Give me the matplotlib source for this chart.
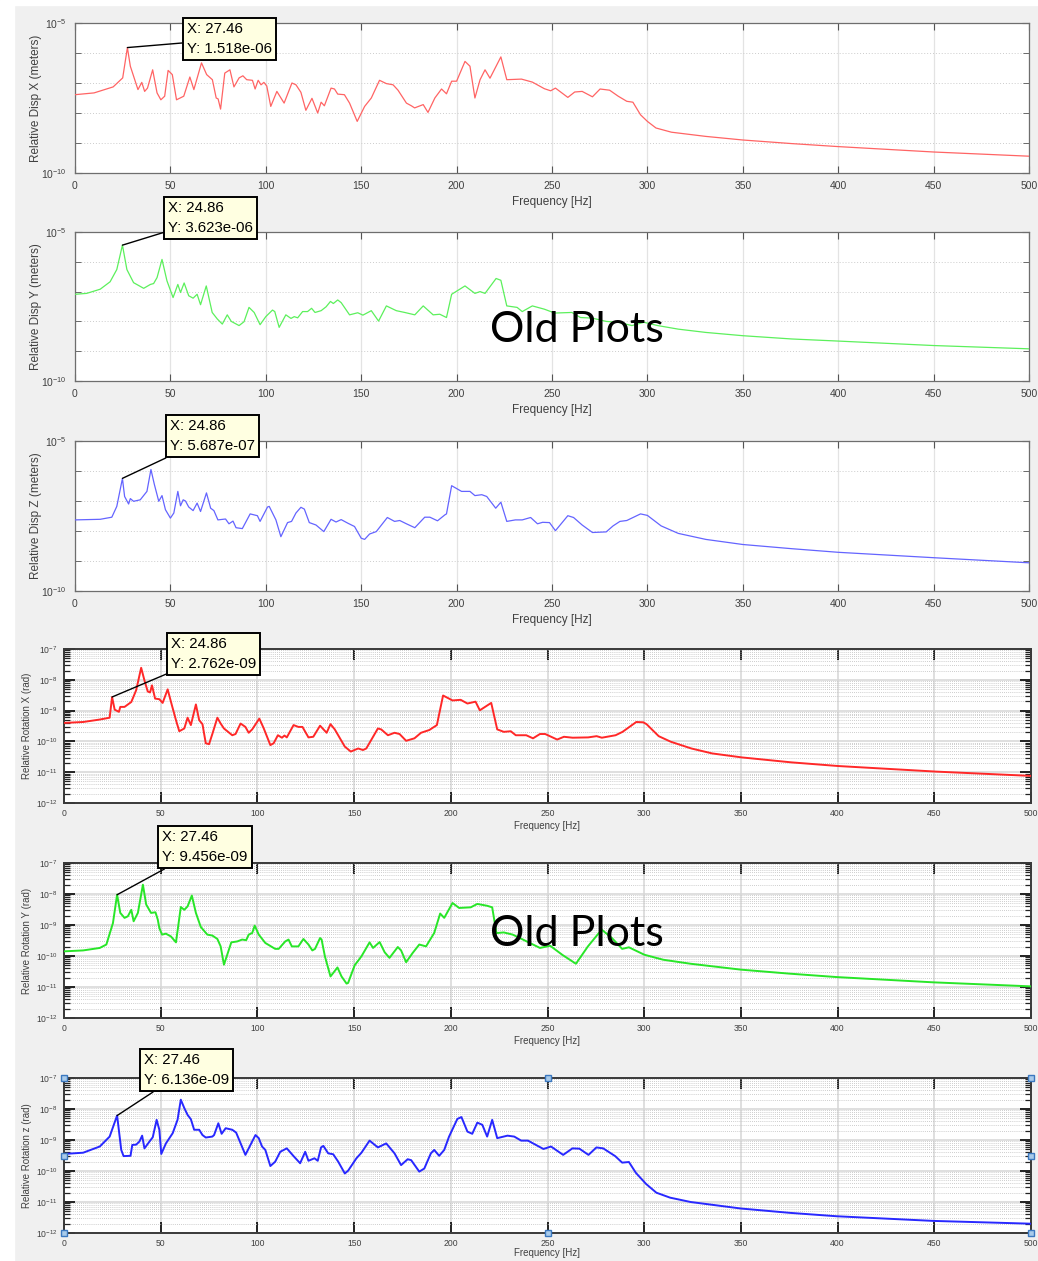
import numpy as np
import matplotlib
matplotlib.use("Agg")
import matplotlib.pyplot as plt
from matplotlib.ticker import FixedLocator, NullFormatter, LogLocator, MultipleLocator
from matplotlib.patches import Rectangle

plt.rcParams['font.family'] = ['Liberation Sans', 'DejaVu Sans']
plt.rcParams['mathtext.default'] = 'regular'

W, H = 1038, 1261

# frequency [Hz] and log10 of the response
freq_dx = [0, 10, 20, 25, 27.46, 29, 33, 35, 36.5, 38,
           40.7, 43, 45, 47, 48.8, 51, 53.2, 57, 60.2, 62.3,
           66.3, 69, 72, 74, 75, 76.3, 78.5, 81.2, 83.3, 86,
           88, 90, 93, 94.4, 96, 97.5, 99, 100.5, 102.6, 105.8,
           109.6, 113.7, 115.8, 118.4, 121, 124.2, 127.2, 129, 130.7, 134.2,
           136, 137.7, 141.2, 143.9, 147.9, 151.8, 155.3, 159.6, 163.2, 166.7,
           169.3, 173.7, 176.3, 178, 182.5, 185, 188.6, 192.1, 194.7, 197.4,
           200, 204.4, 207, 209.6, 212.3, 214.9, 217.5, 223.2, 226.3, 234,
           239.7, 246, 249.3, 251.8, 258.3, 261.9, 265.8, 271.2, 275.2, 280.2,
           284.7, 289.2, 292.4, 296.4, 300, 304.5, 312.6, 330.6, 350, 375.7,
           400, 450, 500]
lg_dx = [-7.39, -7.33, -7.13, -6.83, -5.82, -6.44, -7.22, -6.98, -7.28, -7.17,
         -6.56, -7.33, -7.56, -7.44, -6.58, -6.72, -7.56, -7.44, -6.80, -7.22,
         -6.33, -6.72, -6.89, -7.50, -7.53, -7.87, -6.67, -6.56, -7.13, -6.83,
         -6.76, -6.89, -6.91, -7.20, -6.91, -7.06, -6.98, -7.10, -7.78, -7.28,
         -7.67, -7.00, -7.06, -7.31, -7.91, -7.51, -8.00, -7.64, -7.76, -7.17,
         -7.20, -7.37, -7.39, -7.67, -8.28, -7.78, -7.50, -6.91, -7.02, -7.06,
         -7.24, -7.67, -7.76, -7.83, -7.72, -7.98, -7.50, -7.20, -7.36, -6.94,
         -6.94, -6.28, -6.44, -7.50, -6.89, -6.56, -6.84, -6.13, -6.89, -6.87,
         -6.97, -7.19, -7.26, -7.17, -7.48, -7.30, -7.28, -7.46, -7.20, -7.24,
         -7.44, -7.61, -7.64, -8.06, -8.28, -8.50, -8.64, -8.78, -8.90, -9.02,
         -9.12, -9.30, -9.44]

freq_dy = [0, 6.1, 13.2, 18.4, 21.9, 24.86, 27.2, 30.7, 36, 39.5,
           41.2, 43, 45.6, 48.2, 51.4, 53.9, 55.3, 57.2, 59.6, 61.9,
           64, 65.8, 68.8, 71.9, 74.6, 77.2, 79.8, 81.9, 86, 88.6,
           91.2, 93.9, 97, 100, 103.5, 104.7, 107, 110.5, 113.2, 114.9,
           116.7, 119.3, 121.9, 124, 125.8, 129, 131.6, 133.9, 135.4, 137.7,
           139.5, 143.9, 148.2, 150.9, 155.3, 159.1, 163.2, 168.4, 172.8, 178.1,
           182.5, 187.7, 191.2, 194.7, 197.4, 204.4, 209.6, 212.3, 214.9, 220.7,
           223.2, 226.3, 231.7, 234.4, 239.7, 246, 251.4, 260.4, 264.9, 271.2,
           278.4, 284.7, 291.9, 298.2, 305.4, 316.2, 330.6, 350, 375.7, 400,
           450, 500]
lg_dy = [-7.09, -7.06, -6.92, -6.67, -6.26, -5.44, -6.26, -6.70, -6.89, -6.76,
         -6.73, -6.53, -5.92, -6.64, -7.20, -6.76, -7.03, -6.71, -7.14, -7.22,
         -7.09, -7.44, -6.81, -7.70, -7.92, -8.09, -7.78, -8.00, -8.14, -8.01,
         -7.53, -7.70, -8.11, -7.84, -7.62, -7.67, -8.20, -7.78, -7.90, -7.84,
         -7.88, -7.67, -7.67, -7.56, -7.70, -7.64, -7.51, -7.33, -7.40, -7.28,
         -7.37, -7.78, -7.71, -7.79, -7.64, -7.99, -7.48, -7.64, -7.70, -7.78,
         -7.48, -7.78, -7.76, -7.87, -7.09, -6.81, -7.06, -7.00, -7.06, -6.56,
         -6.62, -7.48, -7.53, -7.67, -7.48, -7.59, -7.72, -7.70, -7.87, -7.89,
         -8.00, -8.03, -8.14, -8.03, -8.14, -8.26, -8.37, -8.48, -8.59, -8.66,
         -8.81, -8.92]

freq_dz = [0, 13.2, 19.3, 21.9, 24.86, 26, 28.1, 29, 30.7, 34.2,
           37.7, 39.8, 41.6, 43.9, 45.6, 47.4, 50, 51.8, 53.9, 55.3,
           56.7, 57.9, 59.6, 61.9, 64, 65.8, 68.9, 71.1, 72.8, 74.9,
           78.9, 80.7, 82.8, 84.4, 87.7, 91.8, 95.6, 97, 100.9, 101.8,
           105.3, 107.9, 111.4, 113.5, 115.8, 118.4, 120.2, 122.8, 126.3, 130.4,
           134.2, 136.8, 139.5, 143, 146.5, 150, 151.8, 154.4, 157.9, 163.7,
           167.5, 170.2, 173.7, 178.1, 183.3, 186, 190, 193.9, 194.7, 197.4,
           202.6, 207, 209.6, 213.2, 215.8, 220.5, 223.2, 226.3, 230.8, 234.4,
           238.8, 242.4, 245.1, 248.7, 251.8, 258.3, 261.3, 265.8, 271.2, 278.4,
           282, 285.6, 289.2, 296.4, 300, 307.2, 316.2, 330.6, 350, 375.7,
           400, 450, 500]
lg_dz = [-7.63, -7.61, -7.54, -7.18, -6.25, -6.85, -7.10, -6.92, -7.01, -6.96,
         -6.68, -5.95, -6.45, -7.01, -6.82, -7.29, -7.57, -7.40, -6.68, -7.16,
         -6.96, -7.00, -7.20, -7.32, -7.07, -7.35, -6.73, -7.24, -7.32, -7.63,
         -7.60, -7.76, -7.67, -7.89, -7.92, -7.43, -7.49, -7.68, -7.20, -7.18,
         -7.63, -8.19, -7.72, -7.68, -7.40, -7.21, -7.27, -7.72, -7.80, -8.02,
         -7.61, -7.70, -7.62, -7.74, -7.85, -8.24, -8.28, -8.10, -8.02, -7.55,
         -7.68, -7.65, -7.76, -7.89, -7.54, -7.54, -7.66, -7.46, -7.43, -6.49,
         -6.68, -6.68, -6.82, -6.79, -6.85, -7.24, -7.04, -7.68, -7.63, -7.63,
         -7.55, -7.76, -7.71, -7.72, -7.99, -7.49, -7.55, -7.80, -8.05, -8.03,
         -7.83, -7.68, -7.65, -7.43, -7.48, -7.83, -8.08, -8.28, -8.45, -8.59,
         -8.71, -8.89, -9.06]

freq_rx = [0, 9.9, 18.5, 23.6, 24.86, 26.2, 28.4, 29.1, 31.3, 34.8,
           37.3, 39.9, 41.6, 43.3, 44.5, 45.5, 47.1, 49.3, 51, 53.6,
           55.8, 57.9, 59.6, 62.2, 63.9, 65.6, 68.2, 69.9, 71.6, 73.3,
           75, 76.7, 79.3, 81, 82.7, 87, 88.7, 91.3, 93.8, 95.5,
           97.3, 101, 103.3, 106.7, 108.4, 110.6, 112.7, 114, 115.2, 118.7,
           121.2, 123.3, 126.4, 128.9, 132.4, 135.8, 137.8, 140, 145.2, 148.3,
           152.1, 154.6, 156.3, 162.3, 164, 167.5, 170.9, 173.5, 176.9, 181.2,
           184.6, 188.9, 192.8, 196, 200.9, 205.1, 208.6, 212.8, 215, 220.9,
           224, 227.4, 231, 233.6, 239, 242.5, 246.1, 248.8, 255, 258.5,
           263, 271, 275.4, 278.1, 285.2, 288.8, 295.9, 299.5, 301.2, 307.5,
           313.7, 324.4, 335.1, 350.5, 376, 400.4, 450.7, 500]
lg_rx = [-9.40, -9.37, -9.29, -9.23, -8.56, -8.97, -9.04, -8.88, -8.88, -8.72,
         -8.34, -7.61, -8.02, -8.38, -8.41, -8.18, -8.61, -8.63, -8.75, -8.31,
         -8.83, -9.31, -9.67, -9.58, -9.23, -9.47, -8.80, -9.31, -9.44, -10.06,
         -10.09, -9.76, -9.23, -9.42, -9.58, -9.80, -9.76, -9.42, -9.53, -9.72,
         -9.61, -9.26, -9.58, -10.12, -10.06, -9.80, -9.88, -9.81, -9.87, -9.47,
         -9.53, -9.53, -9.87, -9.85, -9.49, -9.72, -9.44, -9.61, -10.17, -10.33,
         -10.23, -10.28, -10.23, -9.58, -9.61, -9.80, -9.72, -9.76, -9.98, -9.90,
         -9.72, -9.63, -9.47, -8.51, -8.67, -8.65, -8.77, -8.71, -8.99, -8.75,
         -9.61, -9.69, -9.67, -9.80, -9.80, -9.90, -9.76, -9.76, -9.94, -9.85,
         -9.88, -9.87, -9.83, -9.88, -9.80, -9.69, -9.37, -9.38, -9.44, -9.83,
         -10.01, -10.23, -10.39, -10.52, -10.68, -10.80, -10.98, -11.12]

freq_ry = [0, 9.9, 18.5, 21.9, 25.3, 27.46, 29.1, 31.3, 33, 34.8,
           36, 38.2, 40.8, 42.5, 45, 47.3, 48.5, 49.3, 50.7, 52.7,
           55.3, 57.9, 60.4, 62.2, 63.9, 66.1, 68.2, 70.7, 74.1, 76.7,
           79.3, 81, 82.7, 84.4, 86.5, 89.6, 92.1, 94.2, 95.5, 97.3,
           98.6, 100.7, 104.1, 109.2, 111, 114.4, 116.1, 117.8, 121.2, 123.8,
           126.4, 128.4, 129.8, 132.4, 133.2, 134.9, 137.8, 141.4, 143.5, 146.1,
           146.9, 150.3, 153.8, 158, 159.8, 163.2, 165.8, 168.3, 172.6, 174.3,
           176.9, 180.3, 183.7, 187.2, 191.4, 194.5, 196.6, 200.9, 204.3, 210.3,
           213.7, 218.8, 221.4, 223.6, 227.4, 232, 237.3, 246.1, 251.4, 257.6,
           264.7, 270.9, 278, 283.3, 288.6, 292.1, 300.1, 309.8, 324, 350,
           375.3, 399.6, 449.6, 500]
lg_ry = [-9.85, -9.82, -9.74, -9.63, -8.94, -8.02, -8.61, -8.77, -8.72, -8.51,
         -8.88, -8.61, -7.70, -8.34, -8.61, -8.59, -8.83, -9.10, -9.31, -9.28,
         -9.37, -9.56, -8.42, -8.51, -8.40, -8.05, -8.61, -9.06, -9.31, -9.34,
         -9.45, -9.69, -10.28, -9.96, -9.56, -9.53, -9.47, -9.49, -9.31, -9.26,
         -9.02, -9.31, -9.58, -9.77, -9.77, -9.53, -9.47, -9.69, -9.69, -9.45,
         -9.63, -9.82, -9.77, -9.42, -9.47, -10.01, -10.66, -10.37, -10.66, -10.89,
         -10.87, -10.30, -10.01, -9.56, -9.74, -9.55, -9.88, -10.06, -9.71, -9.82,
         -10.20, -9.90, -9.63, -9.69, -9.26, -8.63, -8.77, -8.29, -8.45, -8.43,
         -8.32, -8.38, -8.43, -9.26, -9.24, -9.31, -9.47, -9.74, -9.67, -9.96,
         -10.25, -9.69, -9.15, -9.42, -9.77, -9.72, -9.96, -10.12, -10.25, -10.44,
         -10.57, -10.68, -10.85, -10.98]

freq_rz = [0, 9.9, 18.5, 23.6, 27.46, 29.6, 30.8, 34.4, 35.3, 37.3,
           39, 40.4, 41.6, 44.2, 45.9, 47.9, 49.3, 50.3, 52.7, 56.2,
           58.7, 60.4, 62.2, 63.9, 65.6, 67.3, 69.9, 71.6, 73.3, 76.7,
           77.6, 79.8, 81.5, 83.6, 87, 89, 93.8, 96.4, 99, 100.7,
           102.4, 104.1, 106.7, 109.2, 111.8, 115.2, 118.7, 122.1, 124.7, 126.4,
           129.5, 131.2, 132.9, 134.1, 136.6, 139.2, 141.8, 145.2, 146.9, 151.2,
           153.8, 158, 162.3, 166.6, 170.9, 174.3, 177.7, 179.5, 183.7, 186.3,
           189.7, 191.4, 194, 196.6, 199.1, 203.4, 205.5, 208.6, 211.1, 213.7,
           216.3, 218.8, 221.4, 224, 229.3, 232.8, 236.4, 239.9, 247.9, 251.8,
           258.1, 262.9, 266.5, 271.2, 275.3, 278.8, 285, 288.6, 292.1, 295.7,
           301, 306.3, 313.4, 324, 350, 375.3, 399.6, 449.6, 500]
lg_rz = [-9.45, -9.41, -9.21, -8.89, -8.21, -9.32, -9.52, -9.51, -9.16, -9.15,
         -9.05, -8.86, -9.27, -9.05, -8.91, -8.35, -8.67, -9.45, -9.11, -8.78,
         -8.35, -7.70, -7.97, -8.19, -8.33, -8.67, -8.67, -8.84, -8.92, -8.89,
         -8.84, -8.46, -8.80, -8.62, -8.67, -8.76, -9.48, -9.16, -8.84, -8.94,
         -9.21, -9.32, -9.84, -9.70, -9.38, -9.27, -9.52, -9.75, -9.38, -9.67,
         -9.59, -9.67, -9.24, -9.19, -9.43, -9.46, -9.70, -10.08, -9.99, -9.59,
         -9.41, -9.02, -9.24, -9.11, -9.43, -9.81, -9.62, -9.65, -10.02, -9.92,
         -9.43, -9.32, -9.51, -9.32, -8.89, -8.32, -8.26, -8.73, -8.80, -8.44,
         -8.51, -8.89, -8.35, -8.94, -8.86, -8.89, -9.02, -9.02, -9.29, -9.21,
         -9.48, -9.27, -9.28, -9.48, -9.24, -9.27, -9.52, -9.73, -9.71, -10.06,
         -10.42, -10.70, -10.86, -11.00, -11.21, -11.35, -11.46, -11.61, -11.70]

ylabels = ['Relative Disp X (meters)', 'Relative Disp Y (meters)', 'Relative Disp Z (meters)',
           'Relative Rotation X (rad)', 'Relative Rotation Y (rad)', 'Relative Rotation z (rad)']
tip_x = [27.46, 24.86, 24.86, 24.86, 27.46, 27.46]
tip_y = [1.518e-06, 3.623e-06, 5.687e-07, 2.762e-09, 9.456e-09, 6.136e-09]

series = [(freq_dx, lg_dx), (freq_dy, lg_dy), (freq_dz, lg_dz),
          (freq_rx, lg_rx), (freq_ry, lg_ry), (freq_rz, lg_rz)]
colors = ['#ff6464', '#5cf05c', '#6464ff', '#ff2828', '#28e628', '#2828ff']

# axes boxes in pixels: left, top, right, bottom
boxes = [(75, 23, 1029, 173), (75, 232, 1029, 381), (75, 441, 1029, 591),
         (64, 649, 1031, 803), (64, 863, 1031, 1018), (64, 1078, 1031, 1233)]
tip_pos = [(187, 22), (168, 201), (170, 419), (171, 637), (162, 830), (144, 1053)]

fig = plt.figure(figsize=(W / 100, H / 100), dpi=100, facecolor='#f0f0f0')
fig.add_artist(Rectangle((0, 0), 14 / W, 1, transform=fig.transFigure, color='white', zorder=-5))
fig.add_artist(Rectangle((0, 1 - 5 / H), 1, 5 / H, transform=fig.transFigure, color='white', zorder=-5))

tick_col = '#404040'
for i, ((fr, lg), (l, t, r, b)) in enumerate(zip(series, boxes)):
    ax = fig.add_axes([l / W, 1 - b / H, (r - l) / W, (b - t) / H])
    ax.set_facecolor('white')
    vals = 10 ** np.array(lg)
    top = i < 3
    ax.semilogy(fr, vals, color=colors[i], lw=0.9 if top else 1.4, zorder=3)
    ax.set_xlim(0, 500)
    ax.xaxis.set_major_locator(MultipleLocator(50))
    if top:
        ax.set_ylim(1e-10, 1e-5)
        ax.yaxis.set_major_locator(FixedLocator([1e-10, 1e-5]))
        ax.yaxis.set_minor_locator(FixedLocator([1e-9, 1e-8, 1e-7, 1e-6]))
        ax.yaxis.set_minor_formatter(NullFormatter())
        ax.grid(True, which='major', axis='x', color='#e3e3e3', lw=0.9, ls='-')
        ax.grid(True, which='minor', axis='y', color='#cccccc', lw=0.7, ls=(0, (1, 2)))
        ax.tick_params(which='major', direction='in', top=True, right=True, length=5,
                       width=0.8, color='#555555', labelsize=7.5, labelcolor=tick_col, pad=6)
        ax.tick_params(which='minor', direction='in', right=True, left=True, length=4,
                       width=0.6, color='#555555')
        for s in ax.spines.values():
            s.set_color('#6e6e6e')
            s.set_linewidth(0.9)
        ax.set_xlabel('Frequency [Hz]', fontsize=8.5, color=tick_col, va='top')
        ax.xaxis.set_label_coords(0.5, -0.155)
        ax.set_ylabel(ylabels[i], fontsize=8.5, color=tick_col)
        ax.yaxis.set_label_coords(-0.035, 0.5)
    else:
        ax.set_ylim(1e-12, 1e-7)
        ax.yaxis.set_major_locator(LogLocator(base=10, numticks=10))
        ax.yaxis.set_minor_locator(LogLocator(base=10, subs=np.arange(2, 10), numticks=20))
        ax.yaxis.set_minor_formatter(NullFormatter())
        ax.grid(True, which='major', axis='both', color='#d6d6d6', lw=1.1, ls='-')
        ax.grid(True, which='minor', axis='y', color='#bdbdbd', lw=0.6, ls=(0, (1, 1.5)))
        ax.tick_params(which='major', direction='in', top=True, right=True, length=8,
                       width=1.4, color='#222222', labelsize=6.2, labelcolor=tick_col, pad=4.5)
        ax.tick_params(which='minor', direction='in', right=True, left=True, length=4,
                       width=0.9, color='#222222')
        for s in ax.spines.values():
            s.set_color('#3a3a3a')
            s.set_linewidth(1.4)
        ax.set_xlabel('Frequency [Hz]', fontsize=7, color=tick_col, va='top')
        ax.xaxis.set_label_coords(0.5, -0.115 if i < 5 else -0.1)
        ax.set_ylabel(ylabels[i], fontsize=7, color=tick_col)
        ax.yaxis.set_label_coords(-0.033, 0.5)
    ax.set_axisbelow(True)

    # data tip
    tx, ty = tip_pos[i]
    ax.annotate('X: %.2f\nY: %.3e' % (tip_x[i], tip_y[i]),
                xy=(tip_x[i], tip_y[i]), xycoords='data',
                xytext=(tx / W, 1 - ty / H), textcoords='figure fraction',
                ha='left', va='top', fontsize=10.8, linespacing=1.55, color='black',
                bbox=dict(boxstyle='square,pad=0.28', fc='#ffffe1', ec='black', lw=1.4),
                arrowprops=dict(arrowstyle='-', color='black', lw=1.0, shrinkA=0, shrinkB=0),
                annotation_clip=False, zorder=10)

    if i == 5:
        # selection handles on the last axes
        hx = [0, 0.5, 1, 0, 1, 0, 0.5, 1]
        hy = [1, 1, 1, 0.5, 0.5, 0, 0, 0]
        ax.plot(hx, hy, ls='none', marker='s', ms=5, mfc='#a9cbea', mec='#3b78c0', mew=1,
                transform=ax.transAxes, clip_on=False, zorder=12)

fig.text(490 / W, 1 - 342 / H, 'Old Plots', fontsize=31, family='Lato', va='baseline', zorder=20)
fig.text(490 / W, 1 - 946 / H, 'Old Plots', fontsize=31, family='Lato', va='baseline', zorder=20)

fig.savefig('out.png', dpi=100, facecolor=fig.get_facecolor())
